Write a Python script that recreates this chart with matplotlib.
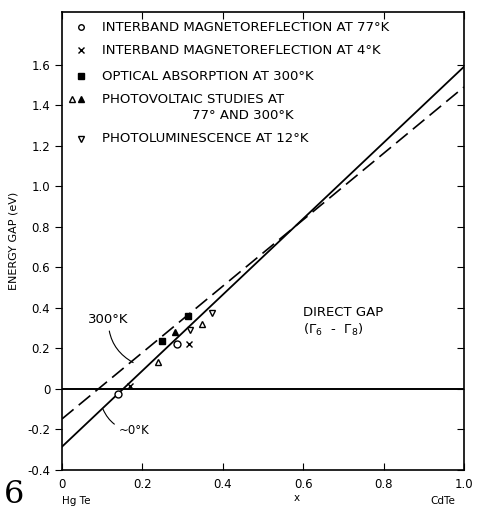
import matplotlib
matplotlib.use('Agg')
import matplotlib.pyplot as plt

# composition x for the two fitted lines (HgTe -> CdTe)
line_x = [0.0, 1.0]
gap_0k = [-0.285, 1.59]
gap_300k = [-0.148, 1.49]

# measured points
mr77_x = [0.139, 0.286]
mr77_y = [-0.025, 0.22]
mr4_x = [0.17, 0.316]
mr4_y = [0.015, 0.22]
abs300_x = [0.249, 0.313]
abs300_y = [0.237, 0.36]
pv77_x = [0.239, 0.348]
pv77_y = [0.133, 0.32]
pv300_x = [0.281]
pv300_y = [0.28]
pl12_x = [0.318, 0.373]
pl12_y = [0.29, 0.375]

yticks = [-0.4, -0.2, 0.0, 0.2, 0.4, 0.6, 0.8, 1.0, 1.2, 1.4, 1.6]
ytick_labels = ['-0.4', '-0.2', '0', '0.2', '0.4', '0.6', '0.8', '1.0', '1.2', '1.4', '1.6']
xticks = [0.0, 0.2, 0.4, 0.6, 0.8, 1.0]
xtick_labels = ['0', '0.2', '0.4', '0.6', '0.8', '1.0']

plt.rcParams['font.family'] = ['DejaVu Sans']
fig = plt.figure(figsize=(4.78, 5.17), dpi=100)
ax = fig.add_axes([0.1297, 0.0909, 0.8410, 0.8859])

k = 'black'
ax.plot(line_x, gap_0k, color=k, lw=1.3)
ax.plot(line_x, gap_300k, color=k, lw=1.2, dashes=(9, 4))
ax.axhline(0, color=k, lw=1.4)

ms = 5
ax.plot(mr77_x, mr77_y, 'o', mfc='white', mec=k, ms=ms, mew=1.0)
ax.plot(mr4_x, mr4_y, 'x', color=k, ms=4, mew=1.0)
ax.plot(abs300_x, abs300_y, 's', color=k, ms=ms)
ax.plot(pv77_x, pv77_y, '^', mfc='white', mec=k, ms=ms, mew=1.0)
ax.plot(pv300_x, pv300_y, '^', color=k, ms=ms)
ax.plot(pl12_x, pl12_y, 'v', mfc='white', mec=k, ms=ms, mew=1.0)

ax.set_xlim(0, 1.0)
ax.set_ylim(-0.4, 1.86)
ax.set_xticks(xticks)
ax.set_xticklabels(xtick_labels)
ax.set_yticks(yticks)
ax.set_yticklabels(ytick_labels)
ax.tick_params(axis='x', direction='in', top=True, length=5, labelsize=8.5, pad=6)
ax.tick_params(axis='y', direction='out', length=5, labelsize=8.5)
ax.tick_params(axis='y', which='both', right=True)
for t in ax.yaxis.get_major_ticks():
    t.tick2line.set_marker(0)  # inward tick on the right spine
    t.tick2line.set_markersize(5)
for s in ax.spines.values():
    s.set_linewidth(1.2)

ax.set_ylabel('ENERGY GAP (eV)', fontsize=8, labelpad=6)
fig.text(0.621, 0.03, 'x', fontsize=7.5, ha='center')
fig.text(0.13, 0.025, 'Hg Te', fontsize=7.5)
fig.text(0.90, 0.025, 'CdTe', fontsize=7.5)
fig.text(0.008, 0.028, '6', fontsize=23, fontfamily='DejaVu Serif')

# legend block
leg = [
    ('o', 'white', 'INTERBAND MAGNETOREFLECTION AT 77°K'),
    ('x', k, 'INTERBAND MAGNETOREFLECTION AT 4°K'),
    ('s', k, 'OPTICAL ABSORPTION AT 300°K'),
    (None, None, 'PHOTOVOLTAIC STUDIES AT'),
    ('v', 'white', 'PHOTOLUMINESCENCE AT 12°K'),
]
ys = [0.967, 0.917, 0.860, 0.810, 0.723]
for (m, fc, label), yy in zip(leg, ys):
    if m is not None:
        ax.plot([0.048], [yy], m, transform=ax.transAxes, mfc=fc, mec=k,
                color=k, ms=4, mew=1.0, clip_on=False)
    ax.text(0.1, yy, label, transform=ax.transAxes, fontsize=9.5, va='center')
ax.plot([0.025], [ys[3]], '^', transform=ax.transAxes, mfc='white', mec=k, ms=4)
ax.plot([0.048], [ys[3]], '^', transform=ax.transAxes, color=k, ms=4)
ax.text(0.323, 0.775, '77° AND 300°K', transform=ax.transAxes, fontsize=9.5, va='center')

ax.text(0.60, 0.375, 'DIRECT GAP', fontsize=9.5, va='center')
ax.text(0.60, 0.29, r'($\Gamma_6$  -  $\Gamma_8$)', fontsize=9.5, va='center')

ax.annotate('300°K', xy=(0.177, 0.13), xytext=(0.065, 0.345), fontsize=9.5, va='center',
            arrowprops=dict(arrowstyle='-', color=k, lw=0.8,
                            connectionstyle='arc3,rad=0.3', shrinkA=2, shrinkB=0))
ax.annotate('~0°K', xy=(0.102, -0.1), xytext=(0.14, -0.207), fontsize=8.5, va='center',
            arrowprops=dict(arrowstyle='-', color=k, lw=0.8,
                            connectionstyle='arc3,rad=-0.3', shrinkA=1, shrinkB=0))

fig.savefig('out.png', dpi=100)
